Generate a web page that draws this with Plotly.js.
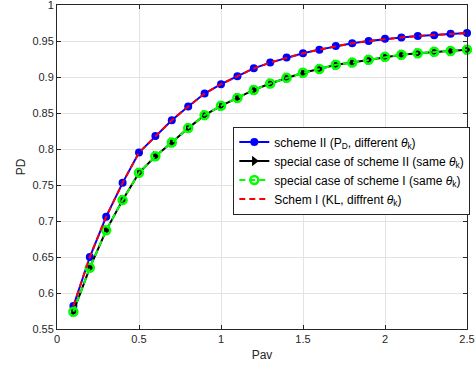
<!DOCTYPE html>
<html>
<head>
<meta charset="utf-8">
<script src="https://cdn.plot.ly/plotly-3.0.1.min.js"></script>
<style>html,body{margin:0;padding:0;background:#fff;}#chart{width:476px;height:373px;}</style>
</head>
<body>
<div id="chart"></div>
<script>
var pav = [0.1,0.2,0.3,0.4,0.5,0.6,0.7,0.8,0.9,1.0,1.1,1.2,1.3,1.4,1.5,1.6,1.7,1.8,1.9,2.0,2.1,2.2,2.3,2.4,2.5];
var schemeII = [0.582,0.650,0.706,0.753,0.795,0.818,0.840,0.859,0.877,0.890,0.901,0.912,0.920,0.927,0.933,0.938,0.943,0.947,0.950,0.953,0.955,0.957,0.958,0.960,0.961];
var specialII = [0.574,0.635,0.687,0.729,0.767,0.790,0.809,0.829,0.847,0.860,0.871,0.882,0.891,0.899,0.906,0.911,0.917,0.920,0.924,0.928,0.931,0.933,0.935,0.936,0.938];
var specialI = specialII.slice();
var schemeI = schemeII.slice();
var names = [
  'scheme II (P<sub>D</sub>, different <i>θ</i><sub>k</sub>)',
  'special case of scheme II (same <i>θ</i><sub>k</sub>)',
  'special case of scheme I (same <i>θ</i><sub>k</sub>)',
  'Schem I (KL, diffrent <i>θ</i><sub>k</sub>)'
];
var yticks = [0.55,0.6,0.65,0.7,0.75,0.8,0.85,0.9,0.95,1];
var yticklabels = ['0.55','0.6','0.65','0.7','0.75','0.8','0.85','0.9','0.95','1'];
var xticks = [0,0.5,1,1.5,2,2.5];
var xticklabels = ['0','0.5','1','1.5','2','2.5'];

var traces = [
  {x: pav, y: schemeII, name: names[0], mode: 'lines+markers', type: 'scatter', cliponaxis: false,
   line: {color: '#0000ff', width: 2}, marker: {symbol: 'circle', size: 8, color: '#0000ff'}},
  {x: pav, y: specialII, name: names[1], mode: 'lines+markers', type: 'scatter', cliponaxis: false,
   line: {color: '#000000', width: 2}, marker: {symbol: 'triangle-right', size: 9, color: '#000000'}},
  {x: pav, y: specialI, name: names[2], mode: 'lines+markers', type: 'scatter', cliponaxis: false,
   line: {color: '#00ff00', width: 2, dash: '6px,4px'}, marker: {symbol: 'circle-open', size: 8, color: '#00ff00', line: {width: 2.5, color: '#00ff00'}}},
  {x: pav, y: schemeI, name: names[3], mode: 'lines', type: 'scatter', cliponaxis: false,
   line: {color: '#ff0000', width: 2, dash: '6px,4px'}}
];

var axisCommon = {
  showline: true, linecolor: '#262626', linewidth: 1, mirror: 'ticks',
  ticks: 'inside', ticklen: 4, tickcolor: '#262626',
  showgrid: true, gridcolor: '#e3e3e3', gridwidth: 1, zeroline: false,
  ticklabeloverflow: 'allow',
  tickfont: {family: 'Liberation Sans, Arial, sans-serif', size: 11, color: '#262626'}
};

var layout = {
  width: 476, height: 373,
  margin: {l: 57, r: 9, t: 5, b: 44},
  paper_bgcolor: '#ffffff', plot_bgcolor: '#ffffff',
  showlegend: true,
  font: {family: 'Liberation Sans, Arial, sans-serif', color: '#262626'},
  xaxis: Object.assign({}, axisCommon, {
    range: [0, 2.5], tickvals: xticks, ticktext: xticklabels,
    title: {text: 'Pav', font: {size: 12, color: '#262626'}, standoff: 6}
  }),
  yaxis: Object.assign({}, axisCommon, {
    range: [0.55, 1], tickvals: yticks, ticktext: yticklabels,
    title: {text: 'PD', font: {size: 12, color: '#262626'}, standoff: 4}
  }),
  legend: {
    x: 0.43, y: 0.625, xanchor: 'left', yanchor: 'top',
    bgcolor: '#ffffff', bordercolor: '#262626', borderwidth: 1,
    font: {family: 'Liberation Sans, Arial, sans-serif', size: 12, color: '#000000'},
    tracegroupgap: 0, itemwidth: 30
  }
};

Plotly.newPlot('chart', traces, layout, {displayModeBar: false, staticPlot: true});
</script>
</body>
</html>
